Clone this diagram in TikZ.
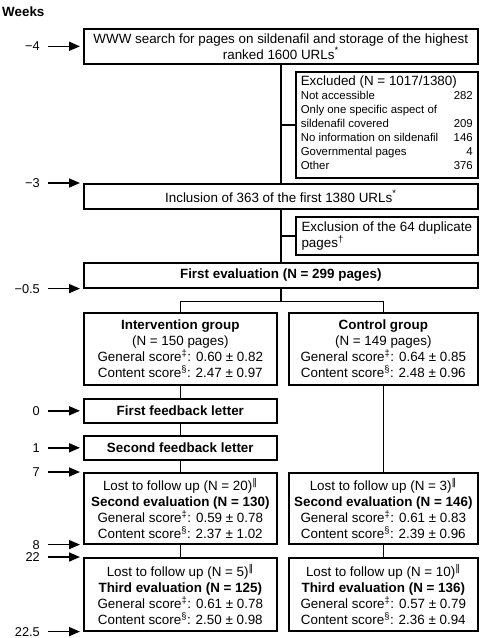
\documentclass[tikz,border=0pt]{standalone}
\usepackage{fontspec}
\setmainfont{Liberation Sans}
\newfontfamily\barfont{DejaVu Sans}
\usetikzlibrary{arrows.meta}
\newcommand{\urlmark}{\textsuperscript{*}}
\newcommand{\dupmark}{\textsuperscript{\textdagger}}
\newcommand{\genmark}{\textsuperscript{\textdaggerdbl}}
\newcommand{\conmark}{\textsuperscript{\textsection}}
\newcommand{\lostmark}{\textsuperscript{{\barfont ‖}}}
\newcommand{\mainsize}{\fontsize{13.4}{16}\selectfont}
\tikzset{
  stage/.style={draw, line width=1.6pt, inner sep=0pt, anchor=north west, align=center, font=\mainsize},
  wide/.style={stage, minimum width=394pt},
  side/.style={stage, minimum width=182pt, inner xsep=5pt, inner ysep=4pt, align=left},
  lgroup/.style={stage, minimum width=193pt},
  rgroup/.style={stage, minimum width=189pt},
  link/.style={line width=1.6pt},
  wk/.style={anchor=east, inner xsep=8pt, inner ysep=0pt, text height=9pt, text depth=0pt, font=\fontsize{12.8}{13}\selectfont},
  wkarrow/.style={-{Triangle[length=11pt,width=9pt]}, line width=1.6pt, shorten >=3pt}
}

\begin{document}
\begin{tikzpicture}[x=1pt, y=-1pt]
    \useasboundingbox (0,0) rectangle (482,638);

    \node[anchor=west, inner sep=0pt, font=\mainsize\bfseries] (weeks) at (2,12) {Weeks};

    % search and exclusions
    \node[wide, minimum height=35pt] (search) at (83,28) {WWW search for pages on sildenafil and storage of the highest\\ranked 1600 URLs\urlmark};
    \node[side, minimum height=106pt] (excl) at (295,71) {%
    \fontsize{11.4}{13.9}\selectfont
    \begin{tabular*}{172pt}{@{}l@{\extracolsep{\fill}}r@{}}
    \multicolumn{2}{@{}l@{}}{\fontsize{13.4}{14}\selectfont Excluded (N = 1017/1380)}\\
    Not accessible & 282\\
    Only one specific aspect of & \\
    sildenafil covered & 209\\
    No information on sildenafil & 146\\
    Governmental pages & 4\\
    Other & 376
    \end{tabular*}};
    \node[wide, minimum height=25pt] (incl) at (83,183) {Inclusion of 363 of the first 1380 URLs\urlmark};
    \node[side, minimum height=38pt] (dup) at (295,216) {Exclusion of the 64 duplicate\\pages\dupmark};
    \node[wide, minimum height=25pt, font=\mainsize\bfseries] (first) at (83,262) {First evaluation (N = 299 pages)};

    % groups
    \node[lgroup, minimum height=72pt] (interv) at (83,312) {\textbf{Intervention group}\\(N = 150 pages)\\General score\genmark: 0.60 ± 0.82\\Content score\conmark: 2.47 ± 0.97};
    \node[rgroup, minimum height=72pt] (control) at (288,312) {\textbf{Control group}\\(N = 149 pages)\\General score\genmark: 0.64 ± 0.85\\Content score\conmark: 2.48 ± 0.96};
    \node[lgroup, minimum height=24pt, font=\mainsize\bfseries] (fb1) at (83,398) {First feedback letter};
    \node[lgroup, minimum height=24pt, font=\mainsize\bfseries] (fb2) at (83,435) {Second feedback letter};
    \node[lgroup, minimum height=71pt] (ev2i) at (83,472) {Lost to follow up (N = 20)\lostmark\\\textbf{Second evaluation (N = 130)}\\General score\genmark: 0.59 ± 0.78\\Content score\conmark: 2.37 ± 1.02};
    \node[rgroup, minimum height=71pt] (ev2c) at (288,472) {Lost to follow up (N = 3)\lostmark\\\textbf{Second evaluation (N = 146)}\\General score\genmark: 0.61 ± 0.83\\Content score\conmark: 2.39 ± 0.96};
    \node[lgroup, minimum height=73pt] (ev3i) at (83,557) {Lost to follow up (N = 5)\lostmark\\\textbf{Third evaluation (N = 125)}\\General score\genmark: 0.61 ± 0.78\\Content score\conmark: 2.50 ± 0.98};
    \node[rgroup, minimum height=73pt] (ev3c) at (288,557) {Lost to follow up (N = 10)\lostmark\\\textbf{Third evaluation (N = 136)}\\General score\genmark: 0.57 ± 0.79\\Content score\conmark: 2.36 ± 0.94};

    % tree lines
    \draw[link] (search) -- (incl);
    \draw[link] (excl.west) -- (excl.west -| search.south);
    \draw[link] (incl) -- (first);
    \draw[link] (dup.west) -- (dup.west -| incl.south);
    \draw[link] (first.south) -- ++(0,13) coordinate (split);
    \draw[link] (interv.north) |- (split) -| (control.north);
    \draw[link] (interv) -- (fb1);
    \draw[link] (fb1) -- (fb2);
    \draw[link] (fb2) -- (ev2i);
    \draw[link] (ev2i) -- (ev3i);
    \draw[link] (control) -- (ev2c);
    \draw[link] (ev2c) -- (ev3c);

    % week markers
    \coordinate (wkcol) at (48,0);
    \node[wk] (wkA) at (search.west -| wkcol) {−4};
    \node[wk] (wkB) at (incl.north west -| wkcol) {−3};
    \node[wk] (wkC) at (first.south west -| wkcol) {−0.5};
    \node[wk] (wkD) at (fb1.west -| wkcol) {0};
    \node[wk] (wkE) at (fb2.west -| wkcol) {1};
    \node[wk] (wkF) at (ev2i.north west -| wkcol) {7};
    \node[wk] (wkG) at (ev2i.south west -| wkcol) {8};
    \node[wk] (wkH) at (ev3i.north west -| wkcol) {22};
    \node[wk] (wkI) at (ev3i.south west -| wkcol) {22.5};
    \draw[wkarrow] (wkA.east) -- (search.west);
    \draw[wkarrow] (wkB.east) -- (incl.north west);
    \draw[wkarrow] (wkC.east) -- (first.south west);
    \draw[wkarrow] (wkD.east) -- (fb1.west);
    \draw[wkarrow] (wkE.east) -- (fb2.west);
    \draw[wkarrow] (wkF.east) -- (ev2i.north west);
    \draw[wkarrow] (wkG.east) -- (ev2i.south west);
    \draw[wkarrow] (wkH.east) -- (ev3i.north west);
    \draw[wkarrow] (wkI.east) -- (ev3i.south west);
\end{tikzpicture}
\end{document}
